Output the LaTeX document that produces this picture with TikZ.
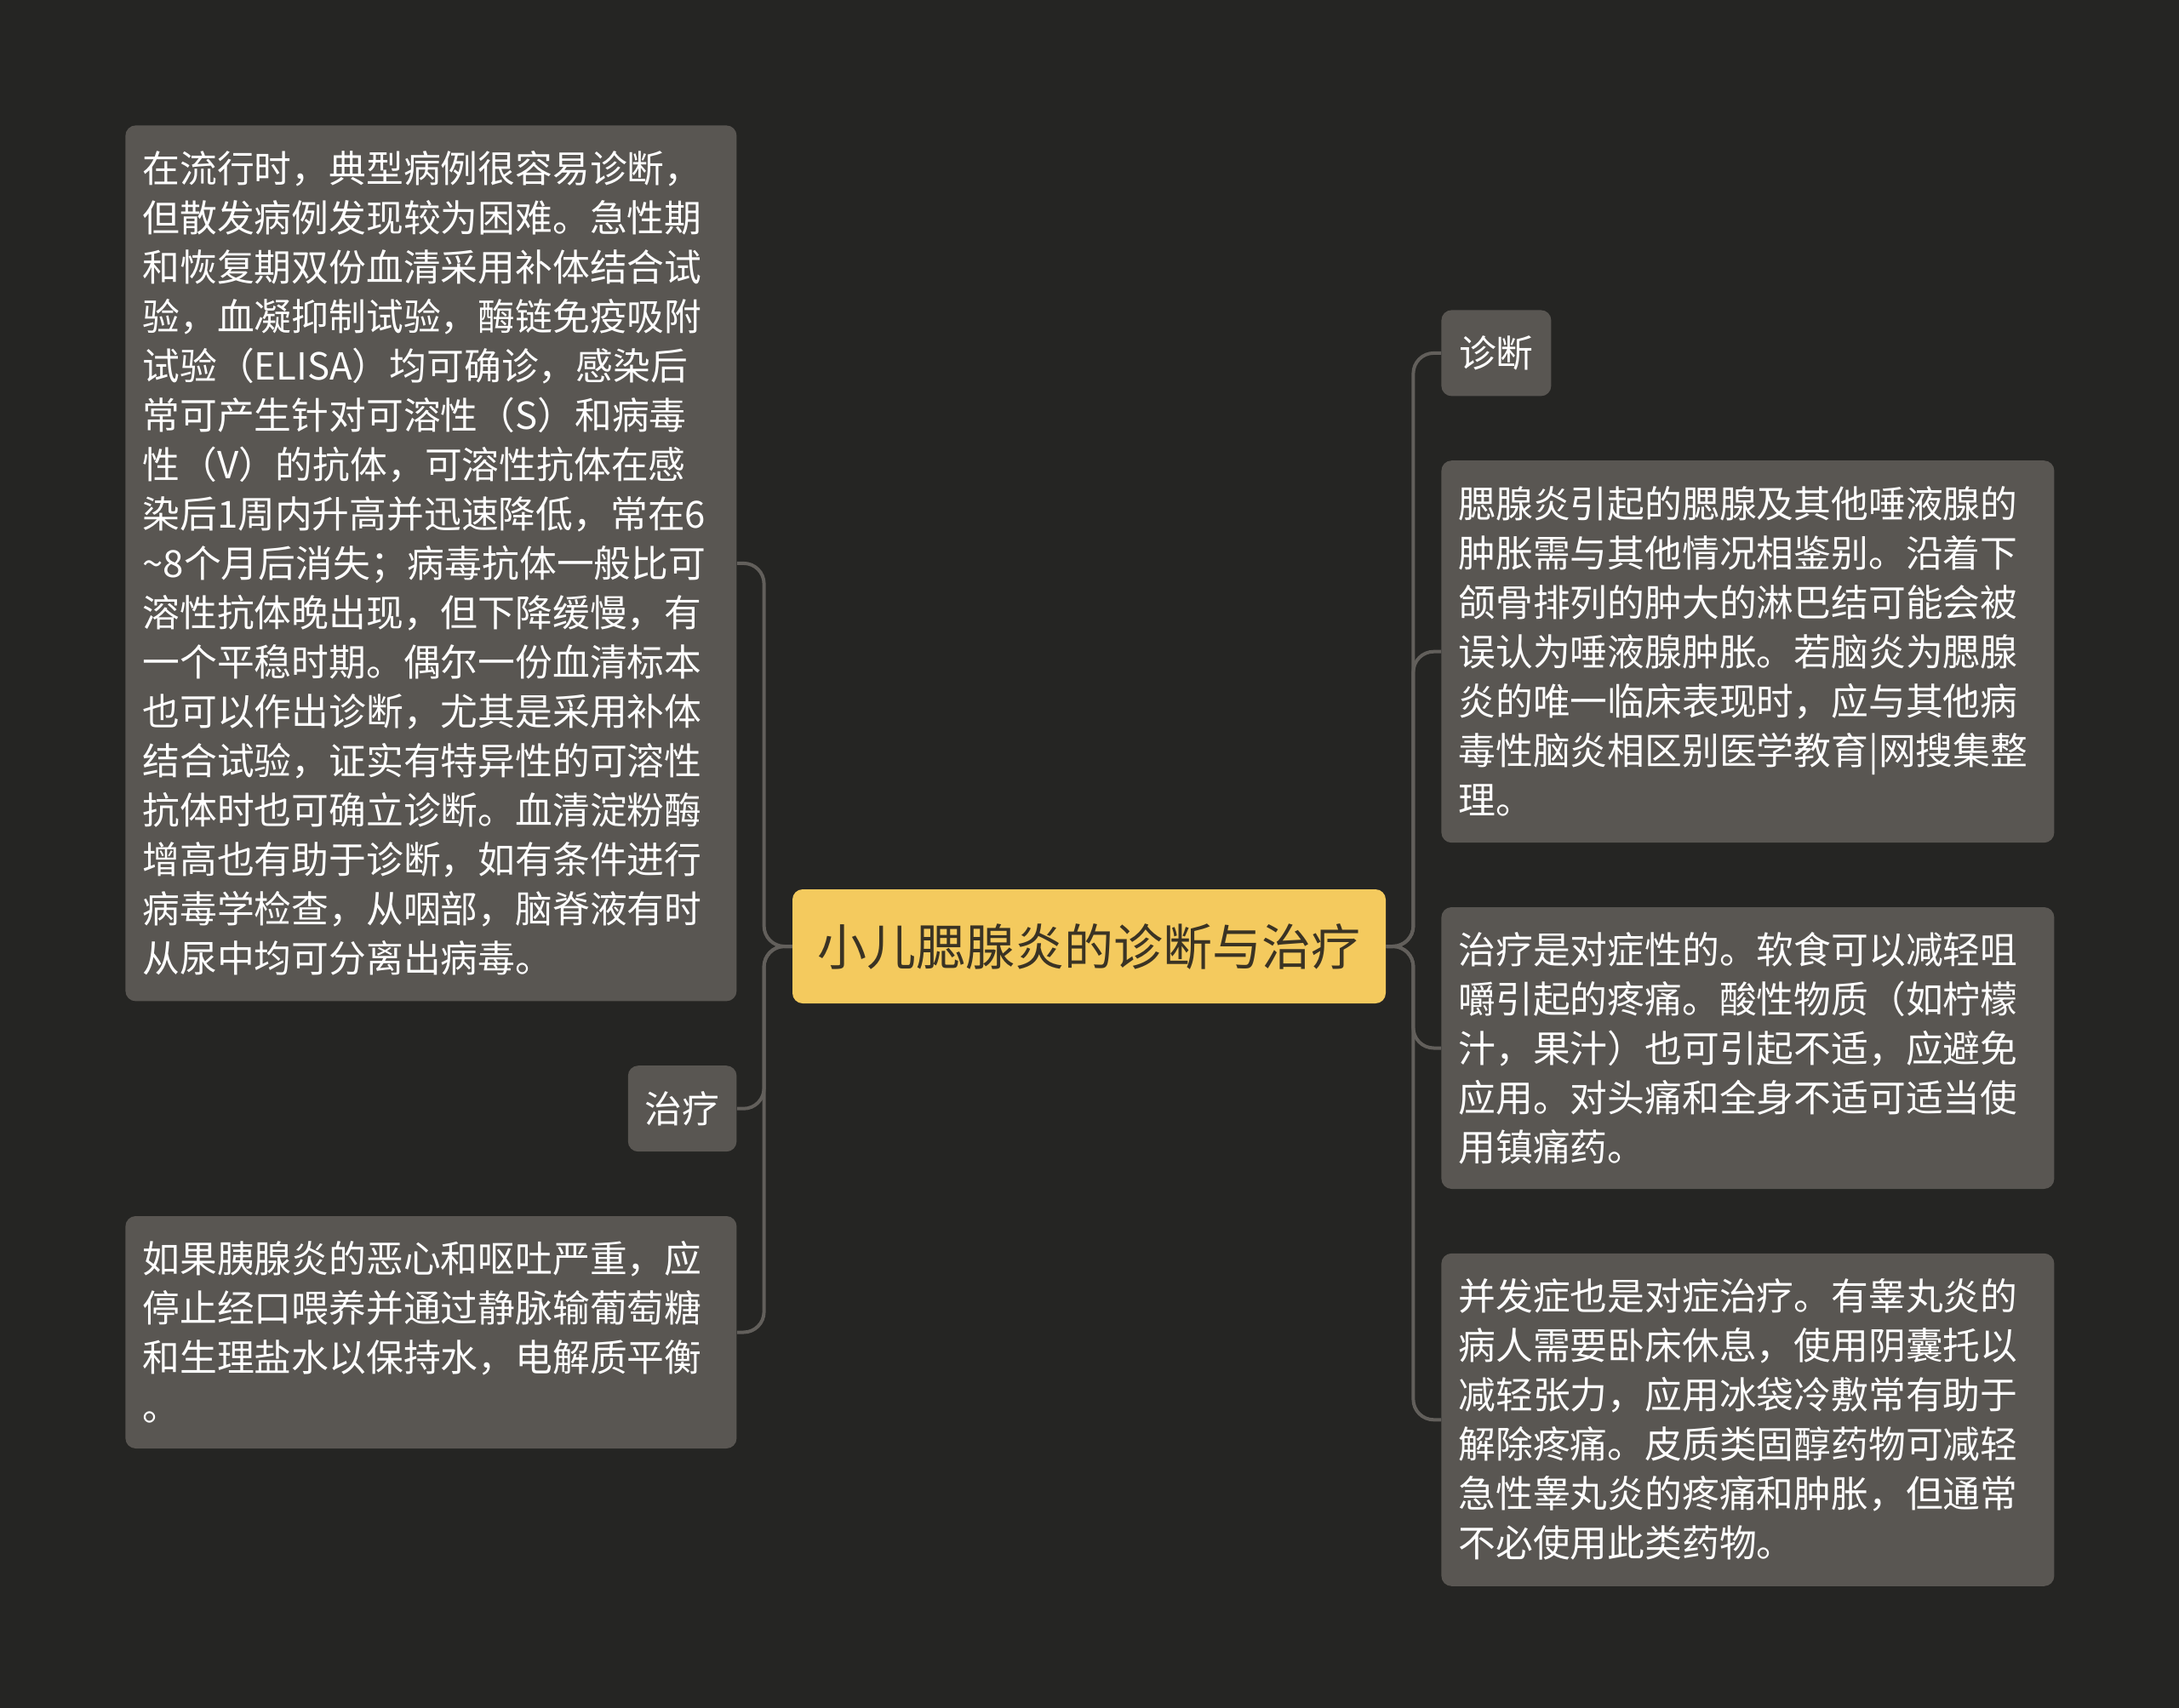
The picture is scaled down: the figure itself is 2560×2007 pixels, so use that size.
\documentclass[tikz,border=0pt]{standalone}
\usepackage{fontspec}
\setmainfont{Noto Sans CJK SC}
\usetikzlibrary{positioning}
\definecolor{sfondo}{HTML}{252523}
\definecolor{scatola}{HTML}{595652}
\definecolor{giallo}{HTML}{F4CA5E}
\definecolor{scuro}{HTML}{3A3324}
\definecolor{linea}{HTML}{625F5B}
\begin{document}
\begin{tikzpicture}[x=0.5pt,y=-0.5pt]
\tikzset{
	foglia/.style={fill=scatola, rounded corners=6pt, text=white, align=left, inner xsep=10pt, inner ysep=0pt, font=\fontsize{21.9pt}{29pt}\selectfont},
	radice/.style={fill=giallo, rounded corners=6pt, text=scuro, inner sep=0pt, minimum width=348.5pt, minimum height=67pt, font=\fontsize{29pt}{35pt}\selectfont},
	ramo/.style={draw=linea, line width=2pt, rounded corners=12pt}
}
\useasboundingbox[fill=sfondo] (0,0) rectangle (2560,2007);
% centro
\node [radice](A) at (1279.5,1112) {小儿腮腺炎的诊断与治疗};
% destra
\node [foglia, minimum width=64.5pt, minimum height=50.5pt, anchor=north west](B) at (1693,364) {诊断};
\node [foglia, text width=340pt, minimum height=224.5pt, below=37.5pt of B.south west, anchor=north west](B1) {腮腺炎引起的腮腺及其他唾液腺的\\肿胀需与其他情况相鉴别。沿着下\\颌骨排列的肿大的淋巴结可能会被\\误认为唾液腺肿胀。若脑炎为腮腺\\炎的唯一临床表现时，应与其他病\\毒性脑炎相区别医学教育|网搜集整\\理。};
\node [foglia, text width=340pt, minimum height=165.5pt, below=37.5pt of B1.south west, anchor=north west](B2) {治疗是对症性的。软食可以减轻咀\\嚼引起的疼痛。酸性物质（如柠檬\\汁，果汁）也可引起不适，应避免\\应用。对头痛和全身不适可适当使\\用镇痛药。};
\node [foglia, text width=340pt, minimum height=195.5pt, below=37.5pt of B2.south west, anchor=north west](B3) {并发症也是对症治疗。有睾丸炎的\\病人需要卧床休息，使用阴囊托以\\减轻张力，应用冰袋冷敷常有助于\\解除疼痛。皮质类固醇药物可减轻\\急性睾丸炎的疼痛和肿胀，但通常\\不必使用此类药物。};
% sinistra
\node [foglia, text width=339pt, minimum height=514.5pt, anchor=north west](C1) at (147,147) {在流行时，典型病例很容易诊断，\\但散发病例发现较为困难。急性期\\和恢复期双份血清采用补体结合试\\验，血凝抑制试验，酶链免疫吸附\\试验（ELISA）均可确诊，感染后\\常可产生针对可溶性（S）和病毒\\性（V）的抗体，可溶性抗体在感\\染后1周内升高并迅速降低，常在6\\\textasciitilde8个月后消失；病毒抗体一般比可\\溶性抗体晚出现，但下降缓慢，有\\一个平稳时期。偶尔一份血清标本\\也可以作出诊断，尤其是采用补体\\结合试验，证实有特异性的可溶性\\抗体时也可确立诊断。血清淀粉酶\\增高也有助于诊断，如有条件进行\\病毒学检查，从咽部，脑脊液有时\\从尿中均可分离出病毒。};
\node [foglia, minimum width=63.5pt, minimum height=50.5pt, below=37.5pt of C1.south east, anchor=north east](C) {治疗};
\node [foglia, text width=339pt, minimum height=136.5pt, below=37.5pt of C.south east, anchor=north east](C2) {如果胰腺炎的恶心和呕吐严重，应\\停止经口喂养并通过静脉输葡萄糖\\和生理盐水以保持水，电解质平衡\\。};
% rami
\draw [ramo] (A.east) -- ++(16pt,0) |- (B.west);
\draw [ramo] (A.east) -- ++(16pt,0) |- (B1.west);
\draw [ramo] (A.east) -- ++(16pt,0) |- (B2.west);
\draw [ramo] (A.east) -- ++(16pt,0) |- (B3.west);
\draw [ramo] (A.west) -- ++(-16.5pt,0) |- (C1.east);
\draw [ramo] (A.west) -- ++(-16.5pt,0) |- (C.east);
\draw [ramo] (A.west) -- ++(-16.5pt,0) |- (C2.east);
\end{tikzpicture}
\end{document}
